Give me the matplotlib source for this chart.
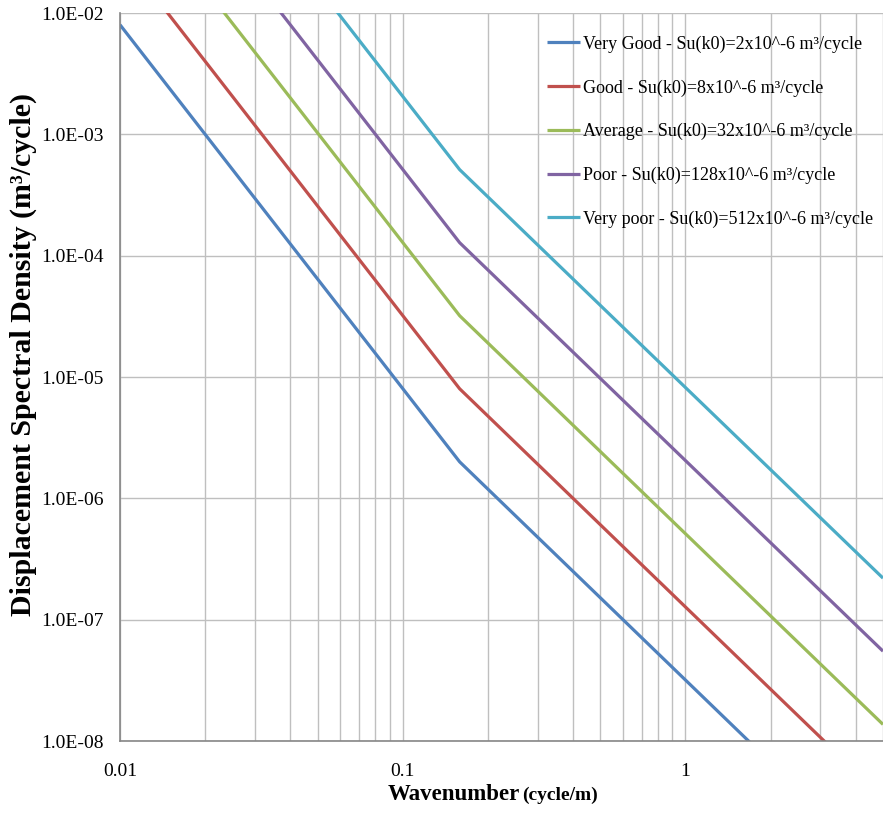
import numpy as np
import matplotlib.pyplot as plt
from matplotlib.ticker import LogLocator, FixedLocator, FuncFormatter

plt.rcParams['font.family'] = ['Liberation Serif', 'DejaVu Serif']

# wavenumber breakpoints (cycle/m): start, k0, end
k = [0.01, 0.159, 5.0]

very_good = [8.0e-3, 2.0e-6, 8.5e-10]
good = [3.2e-2, 8.0e-6, 3.4e-9]
average = [1.28e-1, 3.2e-5, 1.37e-8]
poor = [5.12e-1, 1.28e-4, 5.5e-8]
very_poor = [2.048, 5.12e-4, 2.2e-7]

labels = [
    "Very Good - Su(k0)=2x10^-6 m³/cycle",
    "Good - Su(k0)=8x10^-6 m³/cycle",
    "Average - Su(k0)=32x10^-6 m³/cycle",
    "Poor - Su(k0)=128x10^-6 m³/cycle",
    "Very poor - Su(k0)=512x10^-6 m³/cycle",
]
colors = ["#4F81BD", "#C0504D", "#9BBB59", "#8064A2", "#4BACC6"]
series = [very_good, good, average, poor, very_poor]

fig = plt.figure(figsize=(8.83, 8.14), dpi=100)
ax = fig.add_axes([120/883, 73/814, 763/883, 728/814])

for s, c, lab in zip(series, colors, labels):
    ax.plot(k, s, color=c, lw=2.3, label=lab, solid_capstyle='butt')

ax.set_xscale('log')
ax.set_yscale('log')
ax.set_xlim(0.01, 5.0)
ax.set_ylim(1e-8, 1e-2)

ax.xaxis.set_major_locator(FixedLocator([0.01, 0.1, 1]))
ax.xaxis.set_major_formatter(FuncFormatter(lambda v, p: f"{v:g}"))
ax.xaxis.set_minor_locator(LogLocator(base=10, subs=np.arange(2, 10)))
ax.xaxis.set_minor_formatter(FuncFormatter(lambda v, p: ""))
ax.yaxis.set_major_locator(LogLocator(base=10, numticks=10))
ax.yaxis.set_major_formatter(FuncFormatter(lambda v, p: f"{v:.1E}"))
ax.yaxis.set_minor_locator(FixedLocator([]))

ax.grid(True, which='both', axis='x', color='#BFBFBF', lw=1.0)
ax.grid(True, which='major', axis='y', color='#BFBFBF', lw=1.0)
ax.set_axisbelow(True)
ax.tick_params(which='both', length=0, labelsize=14, colors='black')
ax.tick_params(axis='x', pad=16)
ax.tick_params(axis='y', pad=11.5)
for sp in ['top', 'right']:
    ax.spines[sp].set_visible(False)
for sp in ['left', 'bottom']:
    ax.spines[sp].set_color('#868686')
    ax.spines[sp].set_linewidth(1.2)

fig.text(23/883, 1 - 354/814, "Displacement Spectral Density (m³/cycle)",
         fontsize=21.5, fontweight='bold', rotation=90, ha='center', va='center')

fig.text(520/883, 1 - 794/814, "Wavenumber", fontsize=16.5, fontweight='bold',
         ha='right', va='center')
fig.text(522/883, 1 - 795/814, "(cycle/m)", fontsize=14, fontweight='bold',
         ha='left', va='center')

leg = ax.legend(loc='upper left', bbox_to_anchor=(0.5596, 0.969), frameon=False,
                fontsize=13, handlelength=1.85, handletextpad=0.15,
                labelspacing=1.46, borderaxespad=0, borderpad=0)

fig.savefig("out.png", dpi=100)
